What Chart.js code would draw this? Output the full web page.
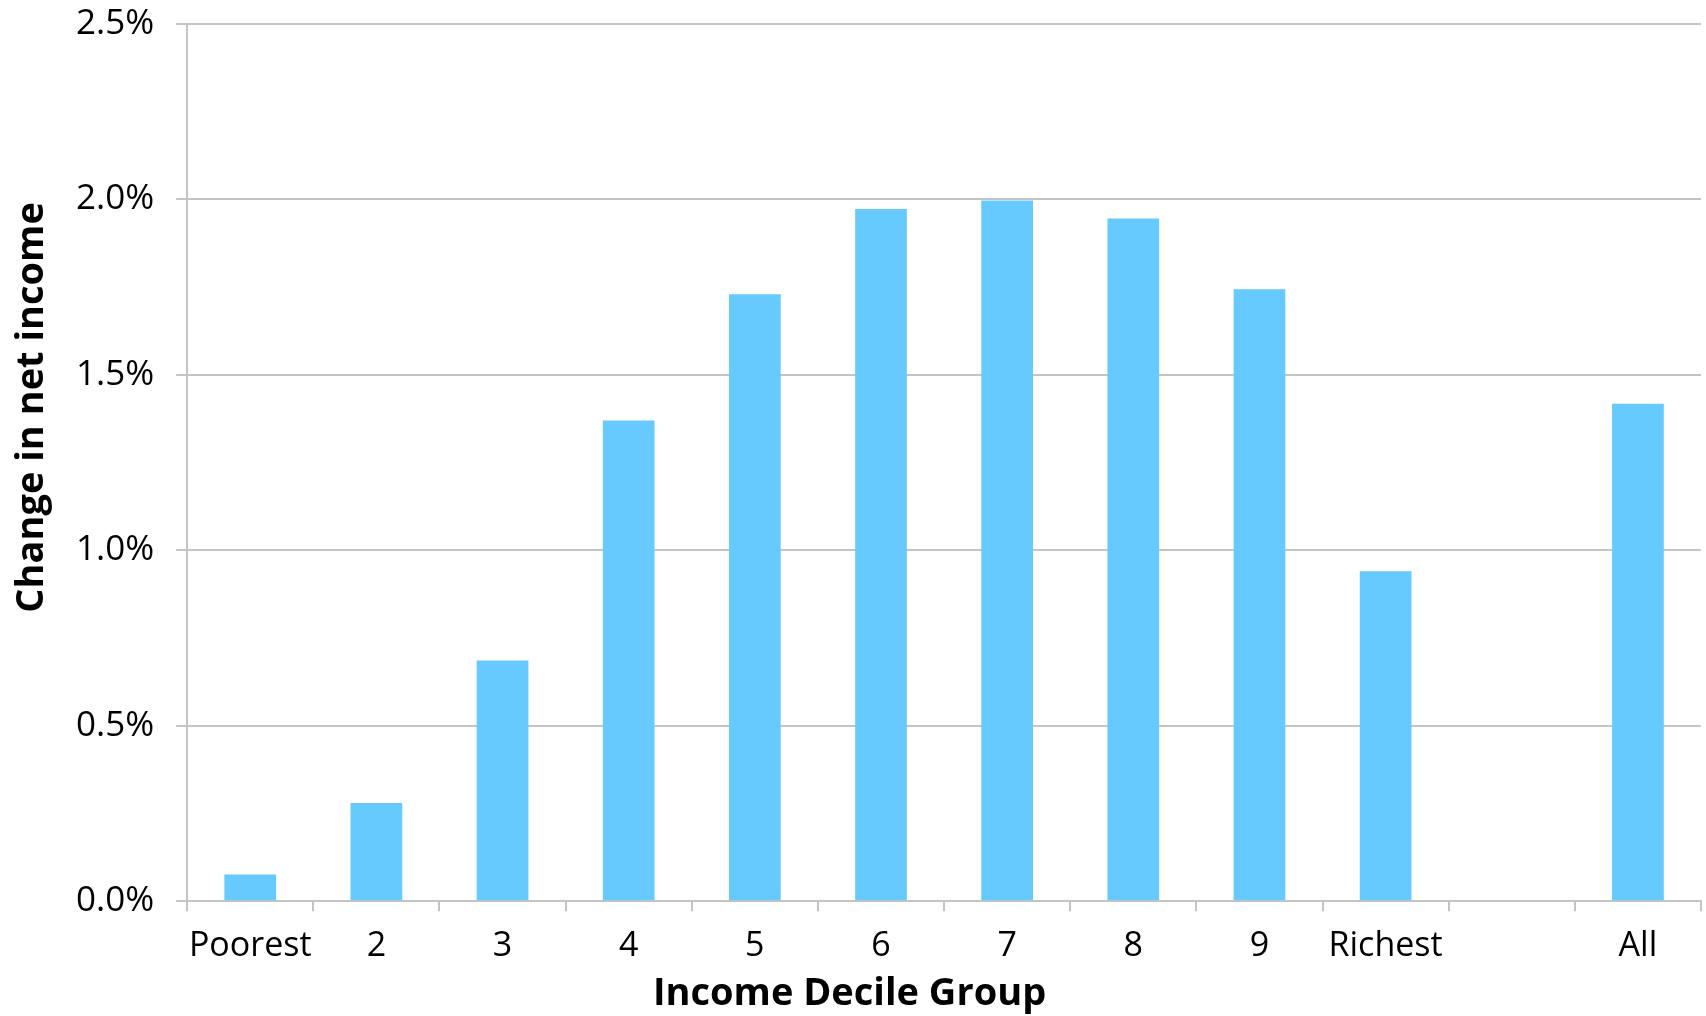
<!DOCTYPE html>
<html>
<head>
<meta charset="utf-8">
<script src="https://cdn.jsdelivr.net/npm/chart.js@4"></script>
<style>
html,body{margin:0;padding:0;background:#fff;}
#wrap{width:1706px;height:1016px;}
</style>
</head>
<body>
<div id="wrap"><canvas id="c" width="1706" height="1016"></canvas></div>
<script>
const categories = ["Poorest", "2", "3", "4", "5", "6", "7", "8", "9", "Richest", "", "All"];
const changeInNetIncome = [0.076, 0.28, 0.686, 1.37, 1.73, 1.973, 1.997, 1.946, 1.744, 0.94, null, 1.418];
const yTickValues = [0, 0.5, 1.0, 1.5, 2.0, 2.5];
const xAxisTitle = 'Income Decile Group';
const yAxisTitle = 'Change in net income';

const fontFamily = '"Open Sans", "Noto Sans", sans-serif';

// Axis titles drawn as canvas text, placed like the reference (not centred on the plot area)
const axisTitles = {
  id: 'axisTitles',
  afterDraw(chart) {
    const ctx = chart.ctx;
    ctx.save();
    ctx.fillStyle = '#000';
    ctx.font = 'bold 38px ' + fontFamily;
    ctx.textAlign = 'center';
    ctx.textBaseline = 'alphabetic';
    ctx.fillText(xAxisTitle, chart.width * 0.498, chart.height - 11);
    ctx.translate(43, chart.height * 0.401);
    ctx.rotate(-Math.PI / 2);
    ctx.fillText(yAxisTitle, 0, 0);
    ctx.restore();
  }
};

new Chart(document.getElementById('c'), {
  type: 'bar',
  data: {
    labels: categories,
    datasets: [{
      data: changeInNetIncome,
      backgroundColor: '#66CAFF',
      borderWidth: 0,
      barPercentage: 0.41,
      categoryPercentage: 1.0
    }]
  },
  options: {
    responsive: false,
    animation: false,
    devicePixelRatio: 1,
    layout: { padding: { left: 54, right: 5, top: 24, bottom: 34 } },
    plugins: { legend: { display: false }, tooltip: { enabled: false } },
    scales: {
      x: {
        offset: true,
        grid: { offset: true, drawOnChartArea: false, drawTicks: true, tickLength: 10, color: '#c4c4c4', lineWidth: 2 },
        border: { display: true, color: '#c4c4c4', width: 2 },
        ticks: { color: '#000', font: { family: fontFamily, size: 34 }, padding: 15, maxRotation: 0, autoSkip: false },
        title: { display: false, text: xAxisTitle }
      },
      y: {
        min: 0, max: 2.5,
        afterBuildTicks: (axis) => { axis.ticks = yTickValues.map(v => ({ value: v })); },
        afterFit: (axis) => { axis.paddingTop = 0; axis.paddingBottom = 0; },
        grid: { color: '#c4c4c4', lineWidth: 2, tickLength: 11, drawTicks: true },
        border: { display: true, color: '#c4c4c4', width: 2 },
        ticks: { color: '#000', font: { family: fontFamily, size: 35 }, padding: 22, callback: (v) => Number(v).toFixed(1) + '%' },
        title: { display: false, text: yAxisTitle }
      }
    }
  },
  plugins: [axisTitles]
});
</script>
</body>
</html>
